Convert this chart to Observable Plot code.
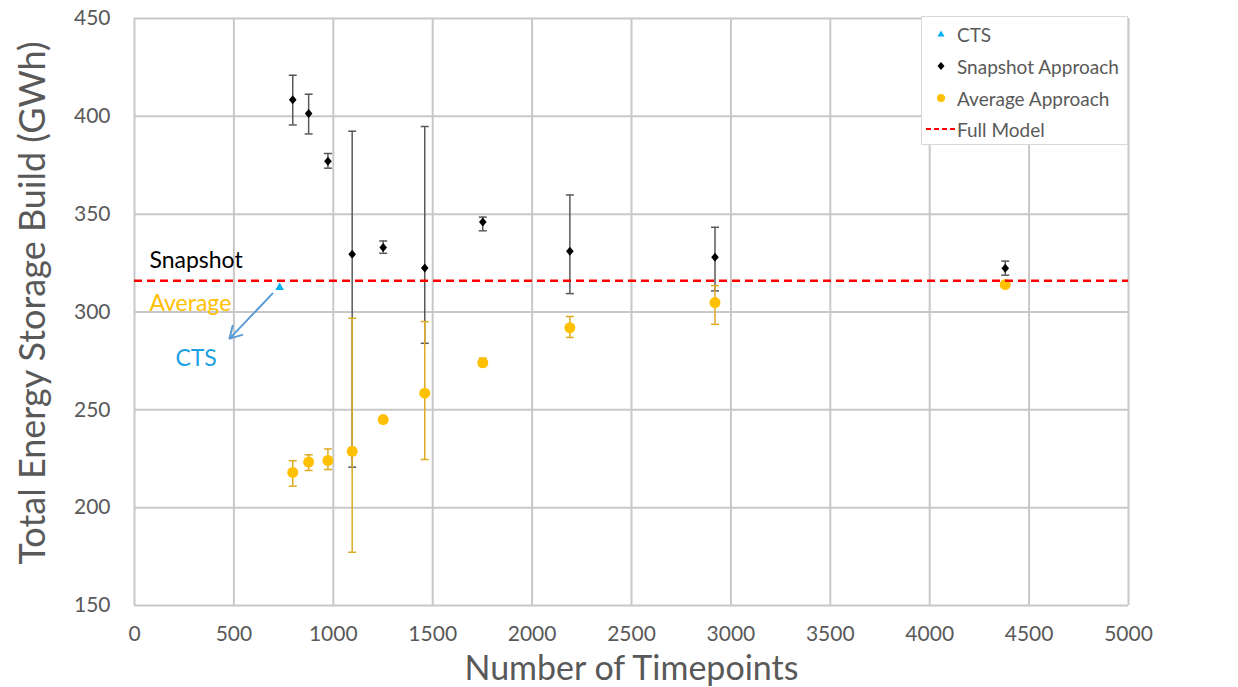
<!DOCTYPE html>
<html>
<head>
<meta charset="utf-8">
<script src="https://cdn.jsdelivr.net/npm/d3@7"></script>
<script src="https://cdn.jsdelivr.net/npm/@observablehq/plot@0.6"></script>
<style>
  html, body { margin: 0; padding: 0; background: white; }
  #wrap { position: relative; width: 1238px; height: 687px; font-family: Lato, "Open Sans", sans-serif; }
  #legend { position: absolute; left: 921px; top: 16px; width: 205px; height: 127px; border: 1px solid #d9d9d9; background: white; }
  .lrow { position: absolute; left: 0; height: 24px; display: flex; align-items: center; font-size: 19px; color: #595959; white-space: nowrap; }
  .lrow svg { display: block; margin-right: 0; }
</style>
</head>
<body>
<div id="wrap"></div>
<script>
// ---- data ----
const timepoints   = [796, 876, 973, 1095, 1251, 1460, 1752, 2190, 2920, 4380];
const snapshotMean = [408.5, 401.5, 377.0, 329.5, 333.0, 322.5, 346.0, 331.0, 328.0, 322.3];
const snapshotLow  = [395.6, 391.0, 373.5, 220.7, 330.0, 284.0, 341.5, 309.4, 310.8, 318.8];
const snapshotHigh = [421.0, 411.3, 381.0, 392.4, 336.3, 394.8, 348.5, 359.8, 343.3, 326.0];
const averageMean  = [218.0, 223.3, 224.1, 228.8, 245.0, 258.5, 274.0, 292.0, 304.8, 314.0];
const averageLow   = [211.0, 219.0, 219.5, 177.2, 245.0, 224.6, 274.0, 287.0, 293.7, 314.0];
const averageHigh  = [224.0, 227.0, 230.0, 296.8, 245.0, 295.1, 276.4, 297.7, 313.5, 314.0];
const ctsX = [730];
const ctsY = [312.5];
const fullModel = [316];
const xTicks = [0, 500, 1000, 1500, 2000, 2500, 3000, 3500, 4000, 4500, 5000];
const yTicks = [150, 200, 250, 300, 350, 400, 450];
const annotLabels = ["Snapshot", "Average", "CTS"];
const annotX = [75, 75, 206];
const annotY = [326.3, 304.3, 276.2];
const annotColors = ["#000000", "#FFC000", "#1BA1E2"];
const arrowFrom = [694, 309.4];
const arrowTo = [478, 286.4];

const snapshot = timepoints.map((x, i) => ({x, y: snapshotMean[i], lo: snapshotLow[i], hi: snapshotHigh[i]}));
const average = timepoints.map((x, i) => ({x, y: averageMean[i], lo: averageLow[i], hi: averageHigh[i]}));
const cts = ctsX.map((x, i) => ({x, y: ctsY[i]}));
const annots = annotLabels.map((t, i) => ({t, x: annotX[i], y: annotY[i], c: annotColors[i]}));

const cap = { draw(ctx, size) { ctx.moveTo(-4, 0); ctx.lineTo(4, 0); } };
const diamond = { draw(ctx, size) { ctx.moveTo(0, -4.5); ctx.lineTo(3.8, 0); ctx.lineTo(0, 4.5); ctx.lineTo(-3.8, 0); ctx.closePath(); } };

const snapColor = "#595959";
const avgColor = "#FFC000";
const avgBar = "#DDAA22";

const chart = Plot.plot({
  width: 1238, height: 687,
  marginLeft: 134, marginRight: 110, marginTop: 18, marginBottom: 82,
  x: {domain: [0, 5000]},
  y: {domain: [150, 450]},
  style: {fontFamily: "Lato, 'Open Sans', sans-serif", color: "#595959", background: "white"},
  marks: [
    Plot.gridX(xTicks, {stroke: "#c8c8c8", strokeOpacity: 1, strokeWidth: 2}),
    Plot.gridY(yTicks, {stroke: "#c8c8c8", strokeOpacity: 1, strokeWidth: 2}),
    Plot.axisX(xTicks, {tickSize: 0, tickPadding: 21, fontSize: 21, label: null, tickFormat: d => String(d)}),
    Plot.axisY(yTicks, {tickSize: 0, tickPadding: 24, fontSize: 21, label: null, tickFormat: d => String(d)}),
    Plot.text(["Number of Timepoints"], {frameAnchor: "bottom", textAnchor: "middle", dy: 64, fontSize: 34, lineAnchor: "middle", fill: "#595959"}),
    Plot.text(["Total Energy Storage Build (GWh)"], {frameAnchor: "left", textAnchor: "middle", rotate: -90, dx: -101, dy: -9, fontSize: 36, lineAnchor: "middle", fill: "#595959"}),
    // snapshot error bars
    Plot.ruleX(snapshot, {x: "x", y1: "lo", y2: "hi", stroke: snapColor, strokeWidth: 1.5}),
    Plot.dot(snapshot, {x: "x", y: "lo", symbol: cap, stroke: snapColor, strokeWidth: 1.5, r: 3}),
    Plot.dot(snapshot, {x: "x", y: "hi", symbol: cap, stroke: snapColor, strokeWidth: 1.5, r: 3}),
    // average error bars
    Plot.ruleX(average, {x: "x", y1: "lo", y2: "hi", stroke: avgBar, strokeWidth: 1.5}),
    Plot.dot(average, {x: "x", y: "lo", symbol: cap, stroke: avgBar, strokeWidth: 1.5, r: 3}),
    Plot.dot(average, {x: "x", y: "hi", symbol: cap, stroke: avgBar, strokeWidth: 1.5, r: 3}),
    // points
    Plot.dot(snapshot, {x: "x", y: "y", symbol: diamond, fill: "#000", r: 4}),
    Plot.dot(average, {x: "x", y: "y", fill: avgColor, r: 5.5}),
    Plot.dot(cts, {x: "x", y: "y", symbol: "triangle", fill: "#00B0F0", r: 3.2}),
    // full model
    Plot.ruleY(fullModel, {stroke: "#FF0000", strokeWidth: 2.5, strokeDasharray: "8,5"}),
    // annotations
    Plot.text(annots, {x: "x", y: "y", text: "t", fill: "c", textAnchor: "start", lineAnchor: "middle", fontSize: 23}),
    Plot.arrow([{x1: arrowFrom[0], y1: arrowFrom[1], x2: arrowTo[0], y2: arrowTo[1]}], {x1: "x1", y1: "y1", x2: "x2", y2: "y2", stroke: "#5B9BD5", strokeWidth: 2, headLength: 10})
  ]
});

const wrap = document.getElementById("wrap");
wrap.appendChild(chart);

// legend
const legendItems = [
  {label: "CTS", y: 34, kind: "tri"},
  {label: "Snapshot Approach", y: 66, kind: "dia"},
  {label: "Average Approach", y: 98, kind: "dot"},
  {label: "Full Model", y: 129, kind: "dash"}
];
const leg = document.createElement("div");
leg.id = "legend";
for (const it of legendItems) {
  const row = document.createElement("div");
  row.className = "lrow";
  row.style.top = (it.y - 29) + "px";
  let sym = "";
  if (it.kind === "tri") sym = '<svg width="35" height="24"><path d="M19,8.5 L22.5,14.5 L15.5,14.5 Z" fill="#00B0F0"/></svg>';
  if (it.kind === "dia") sym = '<svg width="35" height="24"><path d="M19,8 L22.5,12 L19,16 L15.5,12 Z" fill="#000"/></svg>';
  if (it.kind === "dot") sym = '<svg width="35" height="24"><circle cx="19" cy="12" r="4" fill="#FFC000"/></svg>';
  if (it.kind === "dash") sym = '<svg width="35" height="24"><line x1="4" y1="12" x2="35" y2="12" stroke="#FF0000" stroke-width="2" stroke-dasharray="5,3"/></svg>';
  row.innerHTML = sym + '<span>' + it.label + '</span>';
  leg.appendChild(row);
}
wrap.appendChild(leg);
</script>
</body>
</html>
